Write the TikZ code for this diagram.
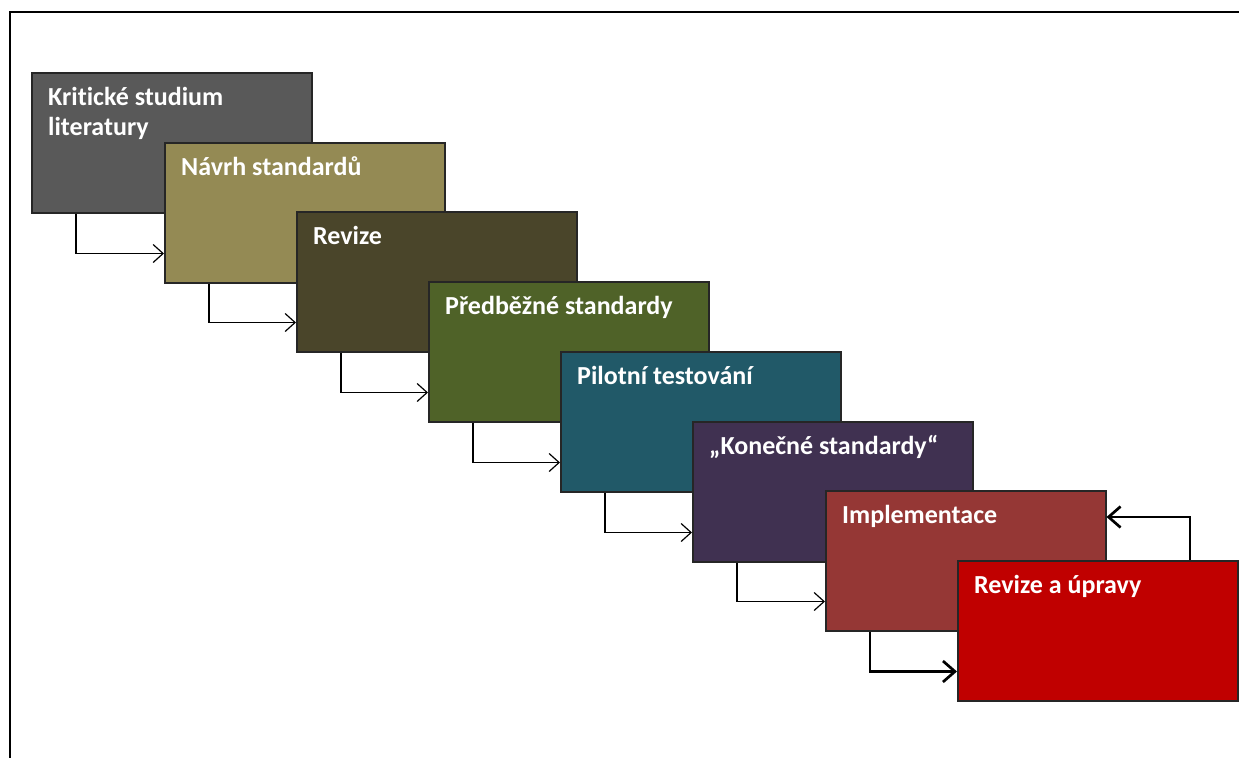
\documentclass[tikz,border=0pt]{standalone}
\usepackage{fontspec}
\setmainfont{Carlito}[Ligatures=NoCommon]
\usetikzlibrary{arrows.meta}

\definecolor{stageA}{HTML}{595959}
\definecolor{stageB}{HTML}{948A54}
\definecolor{stageC}{HTML}{4A452A}
\definecolor{stageD}{HTML}{4F6228}
\definecolor{stageE}{HTML}{215968}
\definecolor{stageF}{HTML}{403151}
\definecolor{stageG}{HTML}{953735}
\definecolor{stageH}{HTML}{C00000}

\begin{document}
\begin{tikzpicture}[x=1pt,y=-1pt,
  stage/.style={draw=black!85, line width=1.5pt, minimum width=280pt,
    minimum height=140pt, anchor=north west, inner sep=0pt},
  lbl/.style={text=white, font=\bfseries\fontsize{26}{30}\selectfont,
    anchor=base west, align=left, inner sep=0pt},
  flow/.style={-{Straight Barb[length=10pt,width=18pt]}, line width=1.2pt},
  flowbold/.style={-{Straight Barb[length=12pt,width=21pt]}, line width=2.7pt}]

\useasboundingbox (0,0) rectangle (1239,758);

% outer frame (top and left edges)
\draw[line width=2.8pt] (1239,12) -- (10,12) -- (10,758);

% stages, each one laid over the previous one
\foreach \i/\x/\y/\c in {1/31/72/stageA, 2/164/142/stageB, 3/296/211/stageC,
    4/428/281/stageD, 5/560/351/stageE, 6/692/421/stageF,
    7/825/490/stageG, 8/957/560/stageH}
  \node[stage, fill=\c] (b\i) at (\x,\y) {};

% stage titles (the base anchor sits on the last line)
\node[lbl] (t1) at ([xshift=17pt,yshift=-63pt]b1.north west) {Kritické studium\\literatury};
\node[lbl] (t2) at ([xshift=17pt,yshift=-33pt]b2.north west) {Návrh standardů};
\node[lbl] (t3) at ([xshift=17pt,yshift=-33pt]b3.north west) {Revize};
\node[lbl] (t4) at ([xshift=17pt,yshift=-33pt]b4.north west) {Předběžné standardy};
\node[lbl] (t5) at ([xshift=17pt,yshift=-33pt]b5.north west) {Pilotní testování};
\node[lbl] (t6) at ([xshift=17pt,yshift=-33pt]b6.north west) {„Konečné standardy“};
\node[lbl] (t7) at ([xshift=17pt,yshift=-33pt]b7.north west) {Implementace};
\node[lbl] (t8) at ([xshift=17pt,yshift=-33pt]b8.north west) {Revize a úpravy};

% step-down connectors
\foreach \i/\j in {1/2, 2/3, 3/4, 4/5, 5/6, 6/7}
  \draw[flow] ([xshift=45pt]b\i.south west) |- ([yshift=30pt]b\j.south west);
\draw[flowbold] ([xshift=45pt]b7.south west) |- ([yshift=30pt]b8.south west);

% feedback loop
\draw[flowbold] ([xshift=233pt]b8.north west) |- ([yshift=-27pt]b7.north east);
\end{tikzpicture}
\end{document}
